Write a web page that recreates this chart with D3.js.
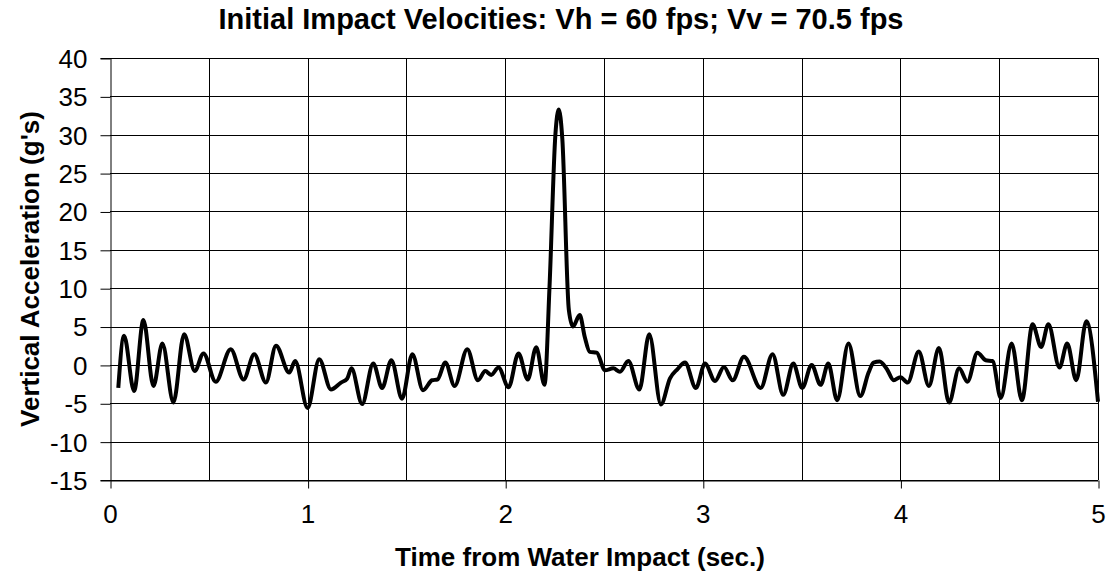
<!DOCTYPE html>
<html>
<head>
<meta charset="utf-8">
<script src="https://cdn.jsdelivr.net/npm/d3@7"></script>
<style>
  body { margin: 0; background: #fff; }
  text { font-family: "Liberation Sans", Arial, sans-serif; fill: #000; }
</style>
</head>
<body>
<div class="container"></div>
<script>
// time (sec) and vertical acceleration (g's)
const timeSec = [
  0.042, 0.071, 0.122, 0.169, 0.220, 0.265, 0.321, 0.375, 0.429, 0.473,
  0.535, 0.611, 0.676, 0.730, 0.789, 0.840, 0.907, 0.937, 1.000, 1.059,
  1.118, 1.169, 1.200, 1.222, 1.276, 1.332, 1.377, 1.424, 1.478, 1.530,
  1.584, 1.630, 1.657, 1.697, 1.744, 1.808, 1.862, 1.899, 1.929, 1.966,
  2.017, 2.067, 2.114, 2.157, 2.199, 2.224, 2.254, 2.271, 2.289, 2.322,
  2.343, 2.377, 2.403, 2.428, 2.463, 2.505, 2.547, 2.581, 2.623, 2.679,
  2.729, 2.788, 2.834, 2.871, 2.910, 2.965, 3.011, 3.062, 3.107, 3.151,
  3.208, 3.293, 3.353, 3.407, 3.458, 3.503, 3.551, 3.596, 3.635, 3.680,
  3.737, 3.797, 3.839, 3.864, 3.895, 3.932, 3.966, 4.000, 4.037, 4.093,
  4.144, 4.195, 4.246, 4.297, 4.339, 4.390, 4.432, 4.466, 4.508, 4.563,
  4.615, 4.669, 4.712, 4.749, 4.805, 4.844, 4.890, 4.941, 5.000
];
const accelG = [
  -3.0, 3.8, -3.4, 5.85, -2.75, 2.8, -4.9, 4.0, -0.8, 1.5,
  -2.2, 2.05, -1.9, 1.4, -2.3, 2.5, -1.0, 0.5, -5.6, 0.75,
  -3.2, -2.3, -1.8, -0.45, -5.1, 0.2, -3.0, 0.6, -4.4, 1.4,
  -3.3, -2.0, -1.9, 0.3, -2.75, 2.05, -2.0, -0.8, -1.3, -0.35,
  -2.9, 1.5, -1.9, 2.3, -2.6, 10.0, 30.0, 33.3, 29.5, 7.2,
  5.0, 6.5, 3.6, 1.7, 1.6, -0.7, -0.45, -0.9, 0.5, -3.2,
  4.0, -5.15, -1.75, -0.57, 0.3, -3.0, 0.17, -2.1, -0.26, -2.0,
  1.05, -3.0, 1.4, -3.9, 0.17, -3.0, 0.0, -2.6, 0.17, -4.6,
  2.8, -4.06, -1.0, 0.3, 0.44, -0.57, -2.0, -1.6, -2.3, 1.75,
  -2.75, 2.2, -4.9, -0.45, -2.2, 1.6, 0.6, 0.5, -4.3, 2.8,
  -4.6, 5.3, 2.35, 5.3, -0.35, 2.8, -2.0, 5.7, -4.8
];
const xTicks = [0, 1, 2, 3, 4, 5];
const xGrid = [0.5, 1, 1.5, 2, 2.5, 3, 3.5, 4, 4.5, 5];
const yTicks = [-15, -10, -5, 0, 5, 10, 15, 20, 25, 30, 35, 40];

const chartTitle = "Initial Impact Velocities: Vh = 60 fps; Vv = 70.5 fps";
const xTitle = "Time from Water Impact (sec.)";
const yTitle = "Vertical Acceleration (g's)";

const width = 1109;
const height = 576;
const plot = { left: 110, right: 1098, top: 58, bottom: 480 };

const svg = d3.select(".container")
              .append("svg")
              .attr("width", width)
              .attr("height", height);

const x = d3.scaleLinear().domain([0, 5]).range([plot.left, plot.right]);
const y = d3.scaleLinear().domain([-15, 40]).range([plot.bottom, plot.top]);

// plain hyphen for negatives, like the original
const fmt = d => String(d);

// gridlines
svg.append("g")
   .selectAll("line")
   .data(yTicks)
   .enter()
   .append("line")
   .attr("x1", plot.left)
   .attr("x2", plot.right)
   .attr("y1", d => Math.round(y(d)) + 0.5)
   .attr("y2", d => Math.round(y(d)) + 0.5)
   .attr("stroke", "#000")
   .attr("stroke-width", 1);

svg.append("g")
   .selectAll("line")
   .data(xGrid)
   .enter()
   .append("line")
   .attr("x1", d => Math.round(x(d)) + 0.5)
   .attr("x2", d => Math.round(x(d)) + 0.5)
   .attr("y1", plot.top)
   .attr("y2", plot.bottom)
   .attr("stroke", "#000")
   .attr("stroke-width", 1);

// y axis
const yAxis = d3.axisLeft(y).tickValues(yTicks).tickFormat(fmt).tickSize(10).tickPadding(13);
const gy = svg.append("g")
   .attr("transform", "translate(" + (Math.round(plot.left) + 0.5) + ",0)")
   .call(yAxis);
gy.selectAll(".tick line").attr("transform", "translate(0,0.5)");
gy.select(".domain").attr("stroke", "#000");
gy.selectAll("text")
  .style("font-size", "26px")
  .attr("dy", "0.36em");

// x axis
const xAxis = d3.axisBottom(x).tickValues(xTicks).tickFormat(fmt).tickSize(8).tickPadding(16).tickSizeOuter(0);
const gx = svg.append("g")
   .attr("transform", "translate(0," + (Math.round(plot.bottom) + 0.5) + ")")
   .call(xAxis);
gx.selectAll(".tick line").attr("transform", "translate(0.5,0)");
gx.selectAll("text")
  .style("font-size", "26px");

// data line
const line = d3.line()
  .x((d, i) => x(timeSec[i]))
  .y(d => y(d))
  .curve(d3.curveMonotoneX);

svg.append("path")
   .datum(accelG)
   .attr("d", line)
   .attr("fill", "none")
   .attr("stroke", "#000")
   .attr("stroke-width", 4)
   .attr("stroke-linejoin", "round");

// titles
svg.append("text")
   .attr("x", 561)
   .attr("y", 29)
   .attr("text-anchor", "middle")
   .style("font-size", "29px")
   .style("font-weight", "bold")
   .text(chartTitle);

svg.append("text")
   .attr("x", 580)
   .attr("y", 566)
   .attr("text-anchor", "middle")
   .style("font-size", "26px")
   .style("font-weight", "bold")
   .text(xTitle);

svg.append("text")
   .attr("transform", "translate(39," + ((plot.top + plot.bottom) / 2) + ") rotate(-90)")
   .attr("text-anchor", "middle")
   .style("font-size", "26px")
   .style("font-weight", "bold")
   .text(yTitle);
</script>
</body>
</html>
